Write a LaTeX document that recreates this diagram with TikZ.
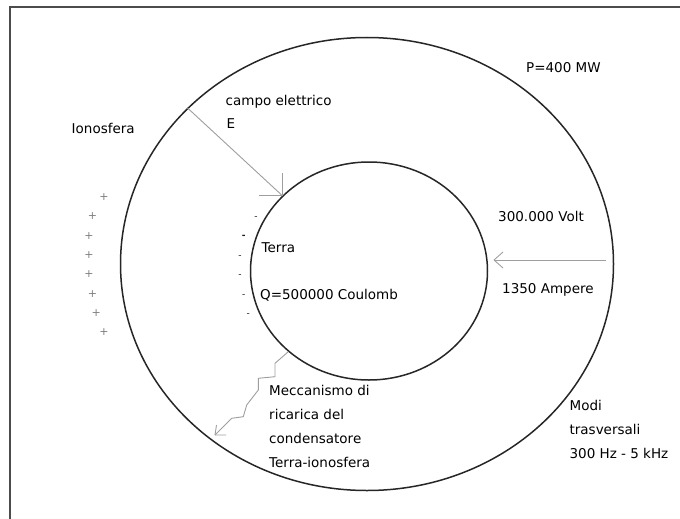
\documentclass[tikz,border=0pt]{standalone}
\usepackage{fontspec}
\setmainfont{DejaVu Sans}
\usepackage{tikz}
\usetikzlibrary{positioning,shapes.geometric}
\tikzset{
    sphere/.style={
        ellipse,
        draw=black!85, line width=1.5pt,
        inner sep=0pt
    },
    labeltext/.style={
        inner sep=0pt,
        anchor=base west,
        font={\fontsize{13.5pt}{23.7pt}\selectfont}
    },
    blocktext/.style={
        inner sep=0pt,
        anchor=north west,
        align=left,
        font={\fontsize{13.5pt}{23.7pt}\selectfont}
    },
    field/.style={draw=black!38, line width=0.9pt},
    charge/.style={inner sep=0pt, font={\fontsize{11pt}{11pt}\selectfont}},
}

\begin{document}
\begin{tikzpicture}
[
    x=1pt, y=-1pt,
    frame/.style={draw=black!70, line width=1.8pt},
    plus/.style={charge, text=black!50},
    minus/.style={charge, font={\fontsize{9pt}{9pt}\selectfont}, text=black!90},
]
\useasboundingbox (0,0) rectangle (680,519);
\draw[frame] (680,7) -- (10,7) -- (10,519);

% ionosfera e terra
\node (ionosfera) at (367,264) [sphere, minimum width=493pt, minimum height=453pt]{};
\node (terra) at (369,271) [sphere, minimum width=237pt, minimum height=218pt]{};

% campo elettrico
\coordinate (etip) at (terra.139.5);
\draw[field] (ionosfera.139.5) -- (etip);
\draw[field] (etip) -- ++(-23,0) (etip) -- ++(0,-23);
% corrente
\coordinate (ampstart) at (606,260);
\coordinate (ampend) at (494,260);
\draw[field] (ampstart) -- (ampend);
\draw[field] (ampend) -- ++(9,-8) (ampend) -- ++(9,8);
% ricarica
\coordinate (recharge) at (215,435);
\draw[field] (terra.225) -- (275,363.3) -- (275,376.7)
    -- (258.3,378.3) -- (258.3,390) -- (246.7,405) -- (243.3,416.7)
    -- (231.7,418.3) -- (recharge);
\draw[field] (recharge) -- ++(1.5,-10) (recharge) -- ++(11,0);

% cariche
\foreach \px/\py [count=\i] in {104/196.7, 92.4/216.4, 89/235.7, 89/255,
    89/274, 92.4/293.6, 96.2/313, 104/332}
    \node[plus] (plus\i) at (\px,\py) {+};
\foreach \mx/\my [count=\i] in {255.9/218.3, 240/256.8, 240/276.3,
    243.7/295.6, 248.2/314.8}
    \node[minus] (minus\i) at (\mx,\my) {-};
\node[minus, font={\fontsize{9pt}{9pt}\bfseries}] (minus0) at (243.7,237.3) {-};

% testi
\node[labeltext] (power) at (526,73) {P=400 MW};
\node[labeltext] (campo) at (225.5,105) {campo elettrico};
\node[labeltext] (efield) at (226.4,128.7) {E};
\node[labeltext] (iono) at (71.5,133) {Ionosfera};
\node[labeltext] (terralabel) at (261.5,252) {Terra};
\node[labeltext] (charge) at (260,299) {Q=500000 Coulomb};
\node[labeltext] (volt) at (498,221.5) {300.000 Volt};
\node[labeltext] (ampere) at (502,293) {1350 Ampere};
\node[blocktext] (mechanism) at (269,385.5) {Meccanismo di\\ricarica del\\condensatore\\Terra-ionosfera};
\node[blocktext] (modes) at (569.4,400.5) {Modi\\trasversali\\300 Hz - 5 kHz};
\end{tikzpicture}
\end{document}
